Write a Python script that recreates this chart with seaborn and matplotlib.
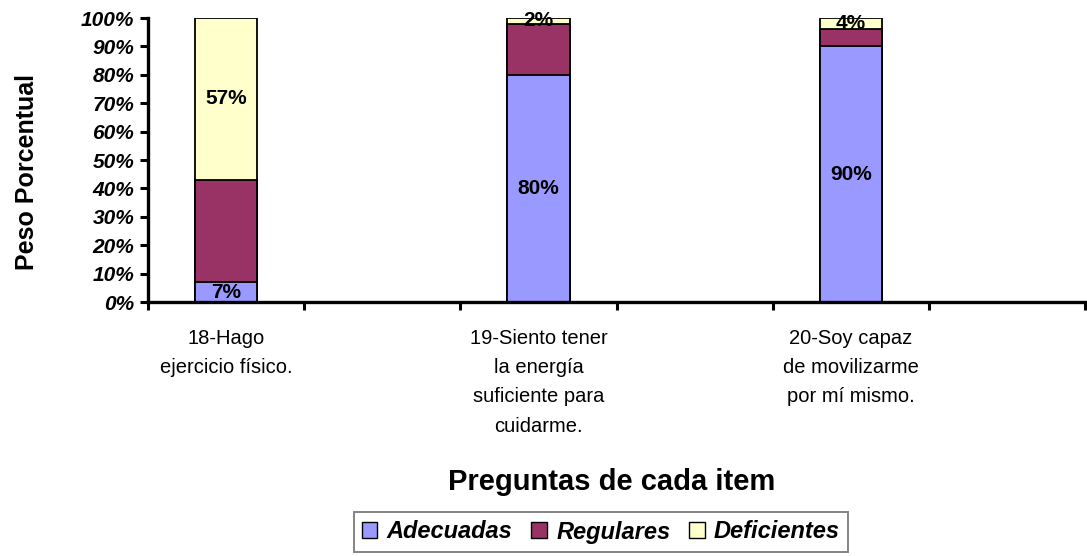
import matplotlib
matplotlib.use("Agg")
import matplotlib.pyplot as plt
import seaborn as sns
import pandas as pd
from matplotlib.patches import Patch

sns.set_theme(style="white")
plt.rcParams['font.family'] = ['Liberation Sans', 'DejaVu Sans']
plt.rcParams['text.color'] = 'black'
plt.rcParams['axes.labelcolor'] = 'black'
plt.rcParams['xtick.color'] = 'black'
plt.rcParams['ytick.color'] = 'black'

categories = ["18-Hago\nejercicio físico.",
              "19-Siento tener\nla energía\nsuficiente para\ncuidarme.",
              "20-Soy capaz\nde movilizarme\npor mí mismo."]
slots = [categories[0], " ", categories[1], "  ", categories[2], "   "]
adecuadas = [7, 80, 90]
regulares = [36, 18, 6]
deficientes = [57, 2, 4]
series_names = ["Adecuadas", "Regulares", "Deficientes"]
colors = ["#9999FF", "#993366", "#FFFFCC"]
yticks = [0, 10, 20, 30, 40, 50, 60, 70, 80, 90, 100]

df = pd.DataFrame({"cat": categories, "A": adecuadas, "R": regulares, "D": deficientes})
df["cum_A"] = df["A"]
df["cum_R"] = df["A"] + df["R"]
df["cum_D"] = df["A"] + df["R"] + df["D"]

fig = plt.figure(figsize=(10.87, 5.56), dpi=100)
ax = fig.add_axes([148/1087, 1-302/556, (1085-148)/1087, (302-18)/556])

for col, c in [("cum_D", colors[2]), ("cum_R", colors[1]), ("cum_A", colors[0])]:
    sns.barplot(data=df, x="cat", y=col, order=slots, color=c, width=0.4,
                edgecolor="black", linewidth=1.3, saturation=1, ax=ax, errorbar=None)

# value labels (Adecuadas and Deficientes)
pos = {c: slots.index(c) for c in categories}
for i, c in enumerate(categories):
    x = pos[c]
    ax.text(x, adecuadas[i] / 2, f"{adecuadas[i]}%", ha="center", va="center",
            fontsize=15, fontweight="bold", color="black")
    ax.text(x, adecuadas[i] + regulares[i] + deficientes[i] / 2, f"{deficientes[i]}%",
            ha="center", va="center", fontsize=15, fontweight="bold", color="black")

ax.set_ylim(0, 100)
ax.set_xlim(-0.5, 5.5)
ax.set_yticks(yticks)
ax.set_yticklabels([f"{v}%" for v in yticks], fontsize=15, fontweight="bold", fontstyle="italic")
ax.set_xticks([-0.5, 0.5, 1.5, 2.5, 3.5, 4.5, 5.5], minor=False)
ax.set_xticklabels([])
for i, s in enumerate(slots):
    if s.strip():
        ax.text(i, -9.5, s, ha="center", va="top", fontsize=14.5, linespacing=1.68,
                transform=ax.transData)
ax.tick_params(axis="both", which="both", direction="out", length=6, width=2.2,
               color="black", left=True, bottom=True, pad=4)
for side in ["top", "right"]:
    ax.spines[side].set_visible(False)
for side in ["left", "bottom"]:
    ax.spines[side].set_linewidth(2.4)
    ax.spines[side].set_color("black")
ax.set_xlabel("")
ax.set_ylabel("")

fig.text(27/1087, 1-172/556, "Peso Porcentual", rotation=90, ha="center", va="center",
         fontsize=18, fontweight="bold")
fig.text(612/1087, 1-482/556, "Preguntas de cada item", ha="center", va="center",
         fontsize=21, fontweight="bold")

handles = [Patch(facecolor=c, edgecolor="black", linewidth=1) for c in colors]
leg = fig.legend(handles, series_names, loc="center", bbox_to_anchor=(601/1087, 1-532/556),
                 ncol=3, frameon=True, fancybox=False, handlelength=0.65, handleheight=0.65,
                 handletextpad=0.4, columnspacing=0.8, borderpad=0.35,
                 prop={"size": 17, "weight": "bold", "style": "italic"})
leg.get_frame().set_edgecolor("#666666")
leg.get_frame().set_linewidth(1.4)
try:
    leg._legend_handle_box.align = "top"
except Exception:
    pass

fig.savefig("out.png", dpi=100)
